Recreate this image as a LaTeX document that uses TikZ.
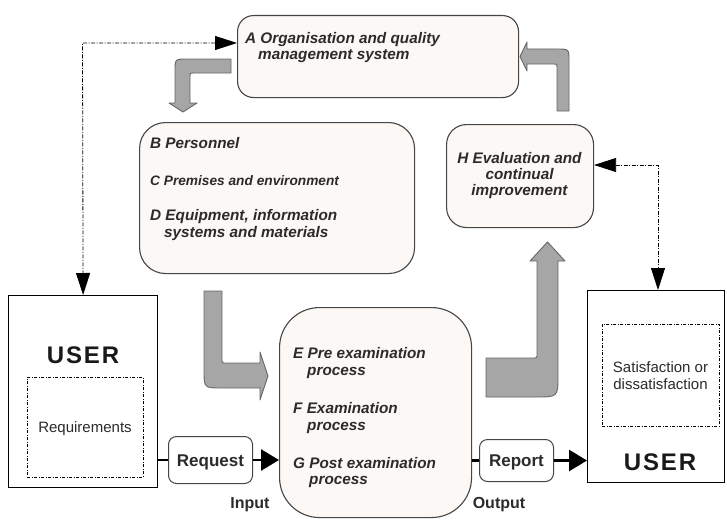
\documentclass[tikz,border=0pt]{standalone}
\usepackage{fontspec}
\setmainfont{Liberation Sans}
\newfontfamily\userfont[LetterSpace=8]{Liberation Sans}
\usetikzlibrary{arrows.meta,calc}
\definecolor{boxfill}{HTML}{FBF8F6}
\definecolor{boxline}{HTML}{454545}
\definecolor{txt}{HTML}{2B2B2B}
\definecolor{arrfill}{HTML}{A6A6A6}
\definecolor{arrline}{HTML}{666666}
\begin{document}
\begin{tikzpicture}[x=1pt,y=-1pt,
  rbox/.style={draw=boxline, fill=boxfill, line width=1.1pt, inner sep=0pt, anchor=north west},
  ubox/.style={draw=black, fill=white, line width=1.2pt, inner sep=0pt, anchor=north west},
  dbox/.style={draw=black, line width=0.8pt, dash pattern=on 3pt off 1.5pt on 1pt off 1.5pt, inner sep=0pt, anchor=north west},
  sbox/.style={draw=boxline, fill=white, line width=1pt, rounded corners=8pt, inner sep=0pt, anchor=north west},
  itx/.style={font=\fontsize{15.3}{16}\selectfont\bfseries\itshape, text=txt, inner sep=0pt, anchor=base west},
  itxc/.style={font=\fontsize{15.3}{16}\selectfont\bfseries\itshape, text=txt, inner sep=0pt, anchor=base},
  smtx/.style={font=\fontsize{13.7}{15}\selectfont\bfseries\itshape, text=txt, inner sep=0pt, anchor=base west},
  rtx/.style={font=\fontsize{15}{17}\selectfont, text=txt, inner sep=0pt, anchor=base},
  btx/.style={font=\fontsize{17}{19}\selectfont\bfseries, text=txt, inner sep=0pt, anchor=base},
  lbl/.style={font=\fontsize{16}{18}\selectfont\bfseries, text=txt, inner sep=0pt, anchor=base},
  usr/.style={font=\fontsize{24}{26}\selectfont\userfont\bfseries, text=black!90, inner sep=0pt, anchor=base},
  bigarrow/.style={draw=arrline, fill=arrfill, line width=0.9pt, line join=round},
  dashconn/.style={draw=black, line width=0.8pt, dash pattern=on 4pt off 1.5pt on 1pt off 1.5pt,
     {Triangle[length=22pt,width=14pt]}-{Triangle[length=22pt,width=14pt]}},
  flowline/.style={draw=black, line width=2.2pt},
  flowarrow/.style={draw=black, line width=2.6pt, -{Triangle[length=18pt,width=21pt]}}
]
\useasboundingbox (0,0) rectangle (727,519);

% ---------- boxes ----------
\node[rbox, rounded corners=16pt, minimum width=281pt, minimum height=82pt] (A) at (237,15) {};
\node[rbox, rounded corners=26pt, minimum width=275pt, minimum height=151pt] (B) at (139,122) {};
\node[rbox, rounded corners=20pt, minimum width=147pt, minimum height=103pt] (H) at (446,124) {};
\node[rbox, rounded corners=40pt, minimum width=192pt, minimum height=210pt] (E) at (279,307) {};
\node[ubox, minimum width=149pt, minimum height=192pt] (UL) at (8,295) {};
\node[ubox, minimum width=137pt, minimum height=192pt] (UR) at (587,290) {};
\node[dbox, minimum width=116pt, minimum height=100pt] (REQB) at (27,377) {};
\node[dbox, minimum width=117pt, minimum height=102pt] (SATB) at (602,324) {};
\node[sbox, minimum width=84pt, minimum height=47pt] (REQ) at (168,436) {};
\node[sbox, minimum width=74pt, minimum height=42pt] (REP) at (479,439) {};

% ---------- texts ----------
\node[itx] (a1) at (245,43.5) {A Organisation and quality};
\node[itx] (a2) at (258,59.5) {management system};

\node[itx] (b1) at (150,148) {B Personnel};
\node[smtx] (c1) at (150,185) {C Premises and environment};
\node[itx] (d1) at (150,220) {D Equipment, information};
\node[itx] (d2) at (164,237) {systems and materials};

\node[itxc] (h1) at (519.5,163) {H Evaluation and};
\node[itxc] (h2) at (519.5,179) {continual};
\node[itxc] (h3) at (519.5,195) {improvement};

\node[itx] (e1) at (293,358) {E Pre examination};
\node[itx] (e2) at (307,375) {process};
\node[itx] (f1) at (293,413) {F Examination};
\node[itx] (f2) at (307,430) {process};
\node[itx] (g1) at (293,468) {G Post examination};
\node[itx] (g2) at (309,484) {process};

\node[usr] (ul) at (83,363.5) {USER};
\node[usr] (ur) at (660,470.5) {USER};
\node[rtx] (rq) at (85,432) {Requirements};
\node[rtx] (s1) at (660.5,372) {Satisfaction or};
\node[rtx] (s2) at (660.5,389) {dissatisfaction};

\node[btx] (rqt) at (REQ.center) [yshift=-6pt] {Request};
\node[btx] (rpt) at (REP.center) [yshift=-6pt] {Report};
\node[lbl] (inp) at (250,508.5) {Input};
\node[lbl] (outp) at (499,508.5) {Output};

% ---------- big grey arrows ----------
\draw[bigarrow] (231,59) -- (187,59) .. controls (175,59) .. (175,71) -- (175,103)
  -- (169,103) -- (183,112) -- (197,103) -- (190,103) -- (190,76)
  .. controls (190,73) .. (193,73) -- (231,73) -- cycle;

\draw[bigarrow] (557,111) -- (557,67) .. controls (557,64) .. (554,64) -- (527,64)
  -- (527,71) -- (520,56.5) -- (527,42) -- (527,49) -- (557,49)
  .. controls (569,49) .. (569,61) -- (569,111) -- cycle;

\draw[bigarrow] (204,291) -- (204,370) .. controls (204,388) .. (222,388) -- (260,388)
  -- (260,400) -- (268,376) -- (260,352) -- (260,363) -- (226,363)
  .. controls (222,363) .. (222,359) -- (222,291) -- cycle;

\draw[bigarrow] (486,358) -- (533,358) .. controls (537,358) .. (537,354) -- (537,261)
  -- (530,261) -- (547.5,242) -- (565,261) -- (558,261) -- (558,375)
  .. controls (558,397) .. (536,397) -- (486,397) -- cycle;

% ---------- dashed feedback connectors ----------
\coordinate (dl) at (82.5,43);
\coordinate (dr) at (658,165);
\draw[dashconn] (A.west |- dl) -- (dl) -- (UL.north);
\draw[dashconn] (H.east |- dr) -- (dr) -- (UR.north -| dr);

% ---------- flow ----------
\draw[flowline] (UL.east |- REQ) -- (REQ.west);
\draw[flowarrow] (REQ.east) -- (E.west |- REQ);
\draw[flowline] (E.east |- REP) -- (REP.west);
\draw[flowarrow] (REP.east) -- (UR.west |- REP);
\end{tikzpicture}
\end{document}
